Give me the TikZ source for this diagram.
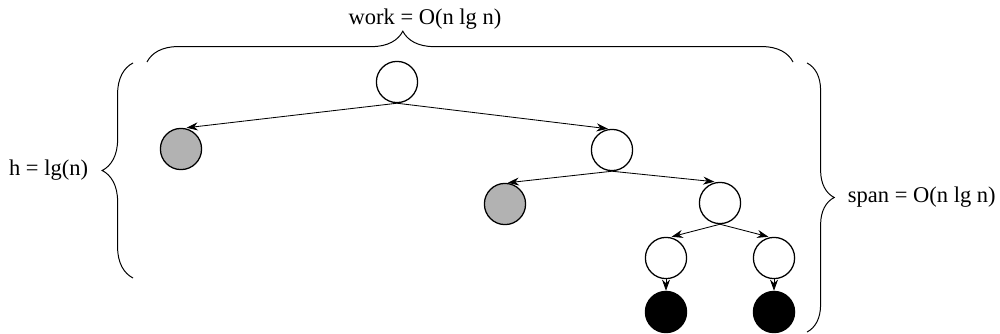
\documentclass[tikz,border=0pt]{standalone}
\usepackage{fontspec}
\setmainfont{Liberation Serif}
\usepackage{tikz}
\usetikzlibrary{arrows.meta,decorations.pathreplacing}

\begin{document}
\begin{tikzpicture}[x=0.025cm,y=-0.025cm,
  wn/.style={circle,draw,line width=0.9pt,fill=white,minimum size=1.03cm,inner sep=0pt},
  gn/.style={wn,fill=gray!60},
  bn/.style={wn,fill=black},
  arr/.style={-{Stealth[length=2.8mm,width=2mm]},line width=0.6pt},
  br/.style={decorate,decoration={brace,amplitude=#1},line width=0.7pt},
  lab/.style={font=\fontsize{16}{19}\selectfont}]
\useasboundingbox (0,0) rectangle (1000,334);
% tree
\node[wn] (root) at (397,82) {};
\node[gn] (leafA) at (181,149) {};
\node[wn] (midA) at (612,150) {};
\node[gn] (leafB) at (505,204) {};
\node[wn] (midB) at (720,203) {};
\node[wn] (lowL) at (666,258) {};
\node[wn] (lowR) at (774,258) {};
\node[bn] (endL) at (666,312) {};
\node[bn] (endR) at (774,312) {};
\draw[arr] (root.south) -- ([xshift=4pt]leafA.north);
\draw[arr] (root.south) -- ([xshift=-3pt]midA.north);
\draw[arr] (midA.south) -- ([xshift=2pt]leafB.north);
\draw[arr] (midA.south) -- ([xshift=-4pt]midB.north);
\draw[arr] (midB.south) -- ([xshift=4pt]lowL.north);
\draw[arr] (midB.south) -- ([xshift=-4pt]lowR.north);
\foreach \a/\b in {lowL/endL,lowR/endR}{
  \draw[arr] (\a.south) -- (\b.north);
}
% braces
\coordinate (wA) at (147,62);
\coordinate (wB) at (793,62);
\coordinate (hA) at (133,278);
\coordinate (hB) at (133,63);
\coordinate (sA) at (807,63);
\coordinate (sB) at (807,332);
\draw[br=0.77cm,decoration={aspect=0.396}] (wA) -- (wB);
\draw[br=0.77cm] (hA) -- (hB);
\draw[br=0.68cm] (sA) -- (sB);
\node[lab] (work) at (425,19) {work = O(n lg n)};
\node[lab,anchor=east] (height) at (93,170) {h = lg(n)};
\node[lab,anchor=west] (span) at (843,197) {span = O(n lg n)};
\end{tikzpicture}
\end{document}
